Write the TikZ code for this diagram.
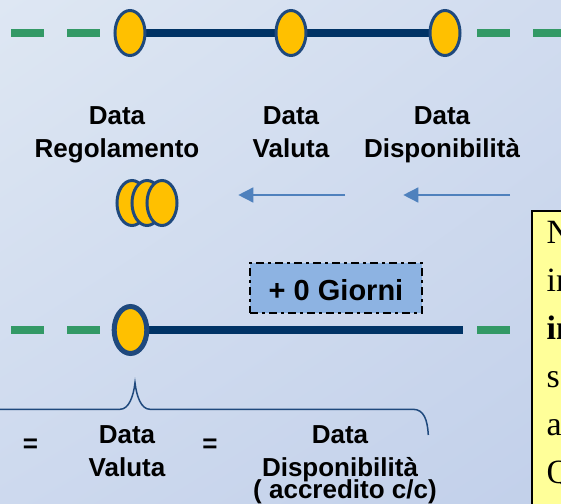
\documentclass[tikz,border=0pt]{standalone}
\usepackage{fontspec}
\setmainfont{Liberation Serif}
\setsansfont{Liberation Sans}
\usetikzlibrary{arrows.meta,positioning,shapes.geometric,shadings}
\definecolor{navy}{HTML}{003366}
\definecolor{edge}{HTML}{1F497D}
\definecolor{gold}{HTML}{FFC000}
\definecolor{verde}{HTML}{339966}
\definecolor{freccia}{HTML}{4F81BD}
\definecolor{giorni}{HTML}{8DB3E2}
\definecolor{nota}{HTML}{FFFF99}
\definecolor{bgA}{HTML}{DEE7F3}
\definecolor{bgB}{HTML}{D1DCEF}
\definecolor{bgC}{HTML}{CDD9EE}
\definecolor{bgD}{HTML}{C2D0EA}
\begin{document}
\begin{tikzpicture}[x=1pt, y=-1pt,
    main/.style = {draw=edge, fill=gold, ellipse, line width=3pt, minimum width=30pt, minimum height=45pt, inner sep=0pt},
    lab/.style = {font=\sffamily\bfseries\fontsize{26}{33}\selectfont, align=center, inner sep=0pt},
    tline/.style = {draw=navy, line width=7.5pt},
    gline/.style = {draw=verde, line width=7.5pt, dash pattern=on 32.5pt off 23.5pt},
    arr/.style = {draw=freccia, line width=1.5pt, -{Triangle[length=15pt, width=15pt]}}]
    \useasboundingbox (0,0) rectangle (561,503);
    \shade[upper left=bgA, upper right=bgB, lower left=bgC, lower right=bgD] (0,0) rectangle (561,503);

    % linea del tempo in alto
    \coordinate (a0) at (11,33);
    \coordinate (a1) at (100,33);
    \coordinate (a2) at (477,33);
    \coordinate (a3) at (570,33);
    \coordinate (p1) at (130,33);
    \coordinate (p2) at (291,33);
    \coordinate (p3) at (445,33);
    \draw[gline] (a0) -- (a1);
    \draw[gline] (a2) -- (a3);
    \draw[tline] (p1) -- (p2) -- (p3);
    \node[main] (1) at (p1) {};
    \node[main] (2) at (p2) {};
    \node[main] (3) at (p3) {};

    \node[lab, anchor=base] (4) at (117,157) {Data\\Regolamento};
    \node[lab, anchor=base] (5) at (291,157) {Data\\Valuta};
    \node[lab, anchor=base] (6) at (442,157) {Data\\Disponibilità};

    % monete e frecce
    \node[main] (7) at (132,203) {};
    \node[main] (8) at (147,203) {};
    \node[main] (9) at (162,203) {};
    \coordinate (f1) at (345,195);
    \coordinate (f2) at (238.3,195);
    \coordinate (f3) at (510,195);
    \coordinate (f4) at (403.3,195);
    \draw[arr] (f1) -- (f2);
    \draw[arr] (f3) -- (f4);

    \node[draw=black, line width=2pt, dash pattern=on 8pt off 4pt on 3pt off 4pt, fill=giorni,
          minimum width=172pt, minimum height=50pt, inner sep=0pt, text height=24pt, text depth=0pt,
          font=\sffamily\bfseries\fontsize{29}{32}\selectfont] (10) at (336,288) {+ 0 Giorni};

    % linea del tempo in basso
    \coordinate (b0) at (11,330);
    \coordinate (b1) at (100,330);
    \coordinate (b2) at (477,330);
    \coordinate (b3) at (509.5,330);
    \coordinate (q1) at (130.5,330);
    \coordinate (q2) at (462.5,330);
    \draw[gline] (b0) -- (b1);
    \draw[draw=verde, line width=7.5pt] (b2) -- (b3);
    \draw[tline] (q1) -- (q2);
    \node[main, line width=5pt, minimum width=32.6pt, minimum height=47pt] (11) at (q1) {};

    % nota
    \node[draw=black, line width=2.5pt, fill=nota, anchor=north west, minimum width=80pt,
          minimum height=330pt, inner sep=0pt] (12) at (530.5,209.5) {};
    \node[font=\fontsize{34}{48}\selectfont, align=left, anchor=base west, inner sep=0pt] (13)
          at (546.5,483) {N\\in\\\textbf{in}\\s\\a\\Q};

    % graffa
    \draw[edge, line width=1.5pt] (428.3,435) .. controls (427.5,420) and (424,409.3) .. (413,409.3)
        -- (150,409.3) .. controls (141,409.3) and (136.5,396) .. (135,382.7)
        .. controls (133.5,396) and (129,409.3) .. (120,409.3) -- (-5,409.3);

    \node[lab, anchor=base] (14) at (30.5,452) {=};
    \node[lab, anchor=base] (15) at (210,452) {=};
    \node[lab, anchor=base] (16) at (127,476) {Data\\Valuta};
    \node[lab, anchor=base] (17) at (340,498) {Data\\Disponibilità\\[-11pt]\hspace*{10pt}( accredito c/c)};
\end{tikzpicture}
\end{document}
